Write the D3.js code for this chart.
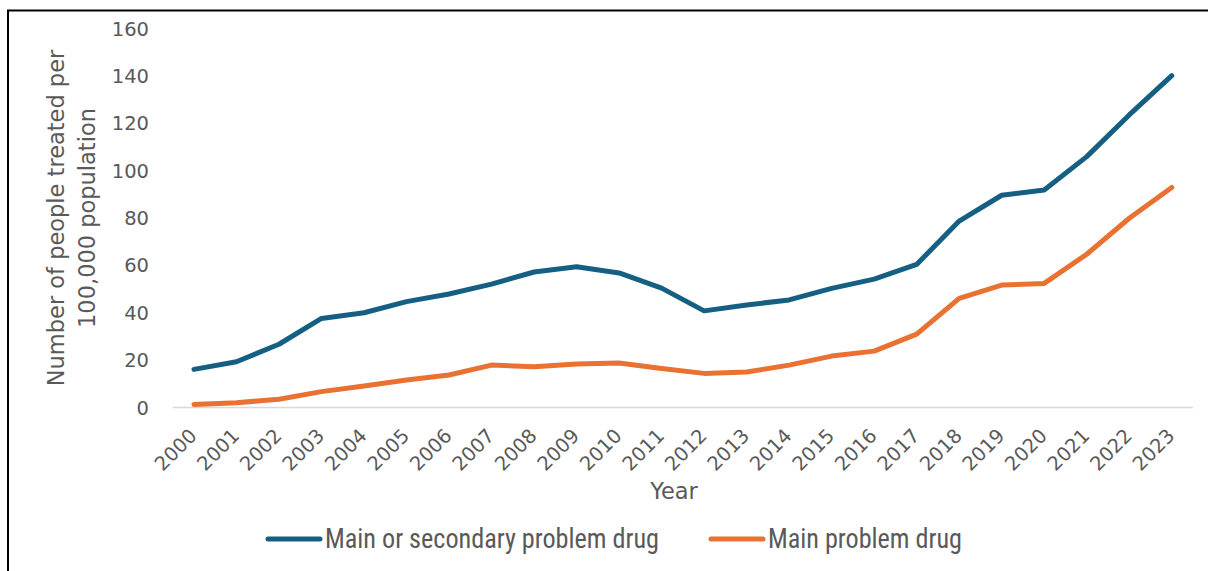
<!DOCTYPE html>
<html>
<head>
<meta charset="utf-8">
<script src="https://cdn.jsdelivr.net/npm/d3@7/dist/d3.min.js"></script>
<style>
  html, body { margin: 0; padding: 0; background: #fff; }
  svg { display: block; }
  .tick-label { font-family: "DejaVu Sans", sans-serif; font-size: 19.5px; fill: #595959; }
  .axis-title { font-family: "DejaVu Sans", sans-serif; font-size: 22.5px; fill: #595959; }
  .legend-label { font-family: "Liberation Sans Narrow", "Roboto Condensed", "Liberation Sans", sans-serif; font-size: 27px; fill: #595959; }
</style>
</head>
<body>
<svg id="chart" width="1208" height="571"></svg>
<script>
// Treatment rates per 100,000 population, by year
const years = ["2000","2001","2002","2003","2004","2005","2006","2007","2008","2009","2010","2011",
               "2012","2013","2014","2015","2016","2017","2018","2019","2020","2021","2022","2023"];
const mainOrSecondary = [16.1, 19.3, 26.7, 37.6, 40.0, 44.7, 47.9, 52.1, 57.2, 59.4, 56.8, 50.4,
                         40.8, 43.3, 45.4, 50.3, 54.2, 60.4, 78.7, 89.6, 91.8, 105.9, 123.5, 140.1];
const mainOnly = [1.3, 2.0, 3.5, 6.7, 9.1, 11.6, 13.7, 17.9, 17.2, 18.4, 18.8, 16.5,
                  14.4, 15.0, 17.9, 21.7, 23.8, 31.0, 46.1, 51.7, 52.4, 64.7, 79.9, 92.9];
const yTicks = [0, 20, 40, 60, 80, 100, 120, 140, 160];
const seriesNames = ["Main or secondary problem drug", "Main problem drug"];
const seriesColors = ["#156082", "#E97132"];
const yTitleLines = ["Number of people treated per", "100,000 population"];
const xTitle = "Year";

const svg = d3.select("#chart");

// frame around the chart area
svg.append("rect")
  .attr("x", 8).attr("y", 10.5)
  .attr("width", 1400).attr("height", 800)
  .attr("fill", "none").attr("stroke", "#000").attr("stroke-width", 2);

const x = d3.scaleBand().domain(years).range([172.7, 1193]);
const y = d3.scaleLinear().domain([0, 160]).range([407.5, 28.5]);
const cx = d => x(d) + x.bandwidth() / 2;

// category baseline
svg.append("line")
  .attr("x1", x.range()[0]).attr("x2", x.range()[1])
  .attr("y1", y(0)).attr("y2", y(0))
  .attr("stroke", "#d9d9d9").attr("stroke-width", 1.5);

// y tick labels
svg.append("g").selectAll("text").data(yTicks).join("text")
  .attr("class", "tick-label")
  .attr("x", 149).attr("y", d => y(d))
  .attr("dy", "0.36em")
  .attr("text-anchor", "end")
  .text(d => d);

// x tick labels, rotated
svg.append("g").selectAll("text").data(years).join("text")
  .attr("class", "tick-label")
  .attr("text-anchor", "end")
  .attr("transform", d => `translate(${cx(d) + 4},${437}) rotate(-45)`)
  .text(d => d);

// axis titles
const yt = svg.append("text").attr("class", "axis-title")
  .attr("text-anchor", "middle")
  .attr("transform", `translate(64,218) rotate(-90)`);
yt.selectAll("tspan").data(yTitleLines).join("tspan")
  .attr("x", 0).attr("dy", (d, i) => i === 0 ? 0 : 31)
  .text(d => d);

svg.append("text").attr("class", "axis-title")
  .attr("x", 674).attr("y", 499)
  .attr("text-anchor", "middle")
  .text(xTitle);

// series lines
const line = d3.line().x((d, i) => cx(years[i])).y(d => y(d));
[mainOrSecondary, mainOnly].forEach((vals, i) => {
  svg.append("path")
    .datum(vals)
    .attr("d", line)
    .attr("fill", "none")
    .attr("stroke", seriesColors[i])
    .attr("stroke-width", 5)
    .attr("stroke-linejoin", "round")
    .attr("stroke-linecap", "round");
});

// legend (condensed labels)
const legendItems = [{x: 268, name: seriesNames[0], color: seriesColors[0], w: 334},
                     {x: 711, name: seriesNames[1], color: seriesColors[1], w: 194}];
const lg = svg.append("g").selectAll("g").data(legendItems).join("g")
  .attr("transform", d => `translate(${d.x},539)`);
lg.append("line")
  .attr("x1", 0).attr("x2", 52).attr("y1", 0).attr("y2", 0)
  .attr("stroke", d => d.color).attr("stroke-width", 5).attr("stroke-linecap", "round");
lg.append("text").attr("class", "legend-label")
  .attr("x", 57).attr("dy", "0.35em")
  .attr("textLength", d => d.w)
  .attr("lengthAdjust", "spacingAndGlyphs")
  .text(d => d.name);
</script>
</body>
</html>
